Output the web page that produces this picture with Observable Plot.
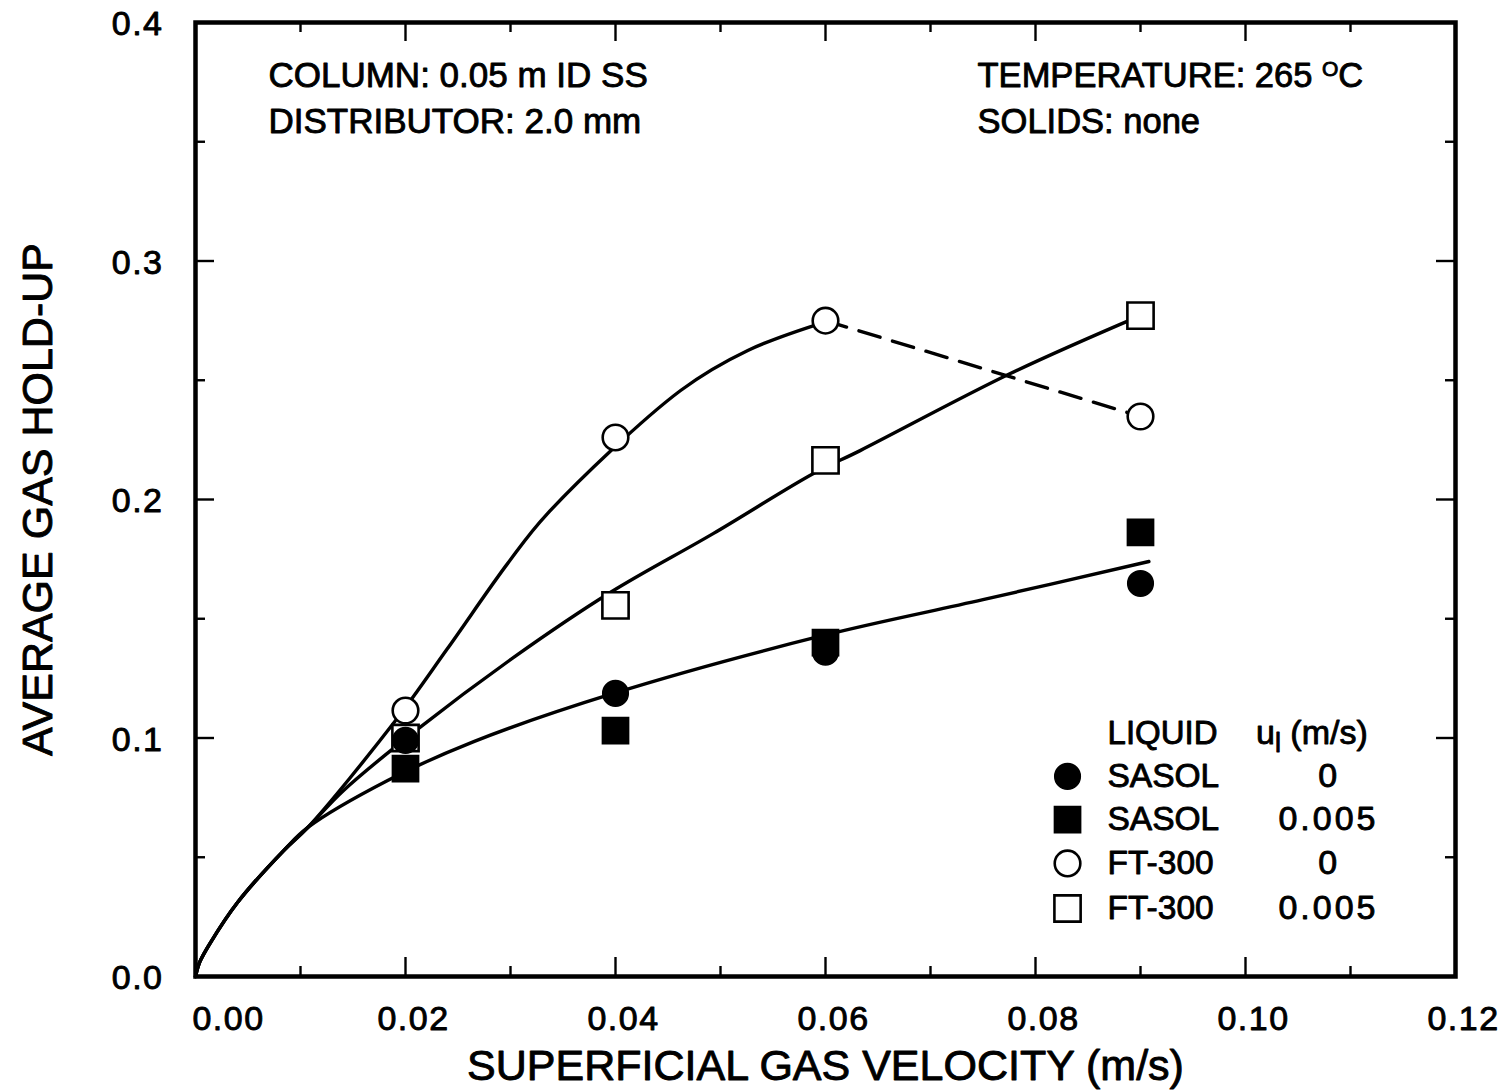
<!DOCTYPE html>
<html>
<head>
<meta charset="utf-8">
<script src="https://cdn.jsdelivr.net/npm/d3@7"></script>
<script src="https://cdn.jsdelivr.net/npm/@observablehq/plot@0.6"></script>
<style>
  body { margin: 0; background: #fff; }
  #chart svg text {
    font-family: "Liberation Sans", Arial, Helvetica, sans-serif;
    stroke: black; stroke-width: 0.9px; stroke-linejoin: round;
  }
</style>
</head>
<body>
<div id="chart"></div>
<script>
// ---------------- data ----------------
const ug = [0.02, 0.04, 0.06, 0.09];              // superficial gas velocity (m/s)
const sasol0   = [0.099, 0.1187, 0.136, 0.1648];   // SASOL, u_l = 0
const sasol005 = [0.0872, 0.1031, 0.140, 0.1862];  // SASOL, u_l = 0.005
const ft0      = [0.1115, 0.226, 0.275, 0.2348];   // FT-300, u_l = 0
const ft005    = [0.100, 0.1556, 0.2164, 0.2771];  // FT-300, u_l = 0.005

// hand-drawn fit curves
const fitCommon = [[0, 0], [0.0004, 0.006], [0.0014, 0.014], [0.004, 0.031], [0.0084, 0.0528], [0.0107, 0.0625]];
const fitSasol  = [[0.0183, 0.0822], [0.0265, 0.0985], [0.0398, 0.1187], [0.0598, 0.143], [0.075, 0.158], [0.0908, 0.174]];
const fitFt005  = [[0.0141, 0.078], [0.0211, 0.1035], [0.0303, 0.1338], [0.0395, 0.161], [0.0493, 0.1857], [0.0589, 0.211], [0.0633, 0.2205], [0.0776, 0.2528], [0.09, 0.2771]];
const fitFt0    = [[0.019, 0.107], [0.024, 0.1375], [0.0297, 0.173], [0.0335, 0.194], [0.0462, 0.2457], [0.0526, 0.2625], [0.06, 0.2745]];
const ft0Dashed = [[0.06, 0.275], [0.09, 0.2348]];

// axis ticks
const xMajor = [0, 0.02, 0.04, 0.06, 0.08, 0.10, 0.12];
const xMinor = [0.01, 0.03, 0.05, 0.07, 0.09, 0.11];
const yMajor = [0, 0.1, 0.2, 0.3, 0.4];
const yMinor = [0.05, 0.15, 0.25, 0.35];

// texts
const xTitle = "SUPERFICIAL GAS VELOCITY (m/s)";
const yTitle = "AVERAGE GAS HOLD-UP";
const notesLeft  = ["COLUMN: 0.05 m ID SS", "DISTRIBUTOR: 2.0 mm"];
const notesRight = ["TEMPERATURE: 265 °C", "SOLIDS: none"];
const notesY = [0.3776, 0.3585];

// legend
const legendHeader = ["LIQUID", "u_l (m/s)"];
const legendLiquid = ["SASOL", "SASOL", "FT-300", "FT-300"];
const legendUl     = ["0", "0.005", "0", "0.005"];
const legendSymbol = ["circle", "square", "circle", "square"];
const legendFilled = [true, true, false, false];
const legendRowY   = [0.0839, 0.0658, 0.0474, 0.0285];
const legendHeadY  = 0.1019;
const legendX = {symbol: 0.08305, liquid: 0.08686, ulHead: 0.10100, ul: 0.10790};

// ---------------- layout ----------------
const W = 1502, H = 1090;
const mL = 195, mR = 47, mT = 22, mB = 114;
const innerW = W - mL - mR, innerH = H - mT - mB;
const majorLen = 19, minorLen = 10;
const R_CIRCLE = 12.8, R_SQUARE = 14.8;
const fmtX = d3.format(".2f"), fmtY = d3.format(".1f");

const pts = (ys) => ug.map((x, i) => ({x, y: ys[i]}));
const pair = (arr) => arr.map(([x, y]) => ({x, y}));

function dots(data, symbol, filled) {
  return Plot.dot(data, {
    x: "x", y: "y", symbol,
    r: symbol === "circle" ? R_CIRCLE : R_SQUARE,
    fill: filled ? "black" : "white",
    stroke: "black", strokeWidth: filled ? 1.5 : 2.6
  });
}

const legendRows = legendLiquid.map((liquid, i) => ({
  liquid, ul: legendUl[i], symbol: legendSymbol[i], filled: legendFilled[i], y: legendRowY[i]
}));

const svg = Plot.plot({
  width: W, height: H,
  marginLeft: mL, marginRight: mR, marginTop: mT, marginBottom: mB,
  style: {background: "white", color: "black", fontSize: "32px", overflow: "visible"},
  x: {domain: [0, 0.12], label: null, axis: null},
  y: {domain: [0, 0.4], label: null, axis: null},
  marks: [
    // inward ticks on all four sides
    Plot.ruleX(xMajor, {x: d => d, insetTop: innerH - majorLen, strokeWidth: 2.4}),
    Plot.ruleX(xMinor, {x: d => d, insetTop: innerH - minorLen, strokeWidth: 2.4}),
    Plot.ruleX(xMajor, {x: d => d, insetBottom: innerH - majorLen, strokeWidth: 2.4}),
    Plot.ruleX(xMinor, {x: d => d, insetBottom: innerH - minorLen, strokeWidth: 2.4}),
    Plot.ruleY(yMajor, {y: d => d, insetRight: innerW - majorLen, strokeWidth: 2.4}),
    Plot.ruleY(yMinor, {y: d => d, insetRight: innerW - minorLen, strokeWidth: 2.4}),
    Plot.ruleY(yMajor, {y: d => d, insetLeft: innerW - majorLen, strokeWidth: 2.4}),
    Plot.ruleY(yMinor, {y: d => d, insetLeft: innerW - minorLen, strokeWidth: 2.4}),
    Plot.frame({stroke: "black", strokeWidth: 4.5}),

    // tick labels
    Plot.text(xMajor.slice(0, 1), {x: d => d, text: fmtX, frameAnchor: "bottom", dy: 43, dx: 33, textAnchor: "middle", lineAnchor: "middle", fontSize: 34}),
    Plot.text(xMajor.slice(1), {x: d => d, text: fmtX, frameAnchor: "bottom", dy: 43, dx: 8, textAnchor: "middle", lineAnchor: "middle", fontSize: 34}),
    Plot.text(yMajor, {y: d => d, text: fmtY, frameAnchor: "left", dx: -32, dy: 2, textAnchor: "end", lineAnchor: "middle", fontSize: 34}),

    // axis titles
    Plot.text([xTitle], {text: d => d, frameAnchor: "bottom", dy: 90, textAnchor: "middle", lineAnchor: "middle", fontSize: 43}),
    Plot.text([yTitle], {text: d => d, frameAnchor: "left", dx: -157, rotate: -90, textAnchor: "middle", lineAnchor: "middle", fontSize: 43}),

    // fitted curves
    Plot.line(pair(fitCommon.concat(fitSasol)), {x: "x", y: "y", curve: "catmull-rom", stroke: "black", strokeWidth: 3.4}),
    Plot.line(pair(fitCommon.concat(fitFt005)), {x: "x", y: "y", curve: "catmull-rom", stroke: "black", strokeWidth: 3.4}),
    Plot.line(pair(fitCommon.concat(fitFt0)), {x: "x", y: "y", curve: "catmull-rom", stroke: "black", strokeWidth: 3.4}),
    Plot.line(pair(ft0Dashed), {x: "x", y: "y", stroke: "black", strokeWidth: 3.4, strokeDasharray: "22,13"}),

    // data points
    dots(pts(ft005), "square", false),
    dots(pts(ft0), "circle", false),
    dots(pts(sasol0), "circle", true),
    dots(pts(sasol005), "square", true),

    // notes
    Plot.text(notesLeft, {x: 0.00695, y: (d, i) => notesY[i], text: d => d, textAnchor: "start", lineAnchor: "middle", fontSize: 35}),
    Plot.text(notesRight, {x: 0.07448, y: (d, i) => notesY[i], text: d => d, textAnchor: "start", lineAnchor: "middle", fontSize: 34.5}),

    // legend
    Plot.text([legendHeader[0]], {x: legendX.liquid, y: legendHeadY, text: d => d, textAnchor: "start", lineAnchor: "middle", fontSize: 33}),
    Plot.text([legendHeader[1]], {x: legendX.ulHead, y: legendHeadY, text: d => d, textAnchor: "start", lineAnchor: "middle", fontSize: 34}),
    ...legendRows.map(row => dots([{x: legendX.symbol, y: row.y}], row.symbol, row.filled)),
    Plot.text(legendRows, {x: legendX.liquid, y: "y", text: "liquid", textAnchor: "start", lineAnchor: "middle", fontSize: 33.5}),
    Plot.text(legendRows, {x: legendX.ul, y: "y", text: "ul", textAnchor: "middle", lineAnchor: "middle", fontSize: 34})
  ]
});

// typographic touches: superscript degree "O", subscript "l", wider numeral tracking
d3.select(svg).selectAll("text").each(function () {
  const t = this.textContent;
  const sel = d3.select(this);
  if (t === "TEMPERATURE: 265 °C") {
    sel.text("TEMPERATURE: 265 ");
    sel.append("tspan").attr("font-size", 21).attr("dy", -11).text("O");
    sel.append("tspan").attr("font-size", 34.5).attr("dy", 11).text("C");
  } else if (t === "u_l (m/s)") {
    sel.text("u");
    sel.append("tspan").attr("font-size", 27).attr("dy", 8).text("l");
    sel.append("tspan").attr("font-size", 34).attr("dy", -8).text(" (m/s)");
  } else if (/^[0-9.]+$/.test(t)) {
    sel.attr("letter-spacing", t.length >= 5 ? 3 : 1.5);
  }
});

document.getElementById("chart").appendChild(svg);
</script>
</body>
</html>
